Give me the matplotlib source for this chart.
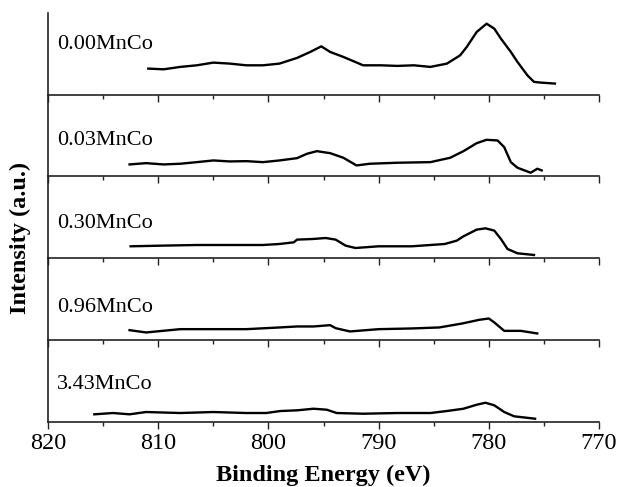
import matplotlib
matplotlib.use("Agg")
import matplotlib.pyplot as plt
from matplotlib.ticker import MultipleLocator

plt.rcParams['font.family'] = ['Liberation Serif', 'DejaVu Serif']

# Sample labels (top to bottom)
labels = ["0.00MnCo", "0.03MnCo", "0.30MnCo", "0.96MnCo", "3.43MnCo"]

# Binding energy (eV) and intensity (a.u.)
be_000 = [810.9, 809.5, 808.0, 806.5, 805.0, 803.5, 802.0, 800.5, 799.0, 797.4, 796.2, 795.2,
          794.4, 793.2, 791.4, 789.8, 788.3, 786.8, 785.3, 783.8, 782.6, 782.0, 781.1, 780.2,
          779.5, 778.9, 778.0, 777.4, 776.5, 775.9, 775.3, 774.0]
in_000 = [26.0, 25.3, 27.7, 29.3, 32.0, 31.0, 29.3, 29.3, 31.0, 36.7, 42.7, 48.3,
          42.7, 37.7, 29.3, 29.3, 28.7, 29.3, 27.7, 31.0, 39.3, 47.7, 62.7, 71.0,
          66.0, 56.0, 42.7, 32.7, 19.3, 12.7, 12.0, 11.0]

be_003 = [812.6, 811.1, 809.5, 808.0, 806.5, 805.0, 803.5, 802.0, 800.5, 799.0, 797.4, 796.5,
          795.6, 794.4, 793.2, 792.0, 790.8, 788.3, 785.3, 783.5, 782.3, 781.1, 780.2, 779.2,
          778.6, 778.0, 777.4, 776.2, 775.6, 775.2]
in_003 = [12.0, 13.3, 12.0, 12.7, 14.3, 16.0, 15.0, 15.3, 14.3, 16.0, 18.3, 22.7,
          25.3, 23.3, 18.7, 11.0, 12.7, 13.7, 14.3, 18.7, 25.3, 33.3, 36.7, 36.0,
          29.3, 14.3, 8.7, 3.7, 7.7, 6.0]

be_030 = [812.5, 809.5, 806.5, 803.5, 800.5, 799.0, 797.7, 797.4, 796.0, 794.8, 793.9, 793.0,
          792.1, 790.0, 787.0, 784.0, 782.9, 782.3, 781.1, 780.3, 779.5, 778.9, 778.3, 777.4,
          775.9]
in_030 = [12.0, 12.7, 13.3, 13.3, 13.3, 14.3, 16.0, 18.7, 19.3, 20.3, 18.7, 12.7,
          10.3, 12.0, 12.0, 14.3, 17.7, 22.0, 28.7, 30.0, 27.7, 19.3, 9.3, 5.0,
          3.3]

be_096 = [812.6, 811.1, 808.0, 805.0, 802.0, 799.0, 797.4, 795.9, 794.4, 793.9, 792.6, 790.0,
          787.0, 784.5, 782.4, 780.9, 780.0, 779.5, 778.6, 777.1, 775.6]
in_096 = [10.0, 7.7, 11.0, 11.0, 11.0, 12.7, 13.7, 13.7, 15.0, 12.0, 8.7, 11.0,
          11.7, 12.7, 16.7, 20.3, 21.7, 17.7, 9.3, 9.3, 6.7]

be_343 = [815.8, 814.1, 812.6, 811.1, 808.0, 805.0, 802.0, 800.2, 798.9, 797.4, 795.9, 794.7,
          793.8, 791.4, 788.3, 785.3, 783.8, 782.3, 781.1, 780.3, 779.5, 778.6, 777.7, 775.8]
in_343 = [7.7, 9.0, 7.7, 10.0, 9.0, 10.0, 9.0, 9.0, 11.0, 11.7, 13.3, 12.3,
          9.0, 8.3, 9.0, 9.0, 11.0, 13.3, 17.3, 19.3, 16.7, 10.0, 5.7, 3.3]

series = [(be_000, in_000), (be_003, in_003), (be_030, in_030),
          (be_096, in_096), (be_343, in_343)]
label_heights = [49.7, 35.7, 34.5, 33.0, 37.5]

xticks = [820, 810, 800, 790, 780, 770]

W, H = 617, 487
fig = plt.figure(figsize=(W / 100, H / 100), dpi=100)

left = 48 / W
width = 551 / W
bottom0 = 1 - 422 / H
ph = (422 - 12.7) / 5 / H

for i, ((be, inten), lab, lh) in enumerate(zip(series, labels, label_heights)):
    b = bottom0 + (4 - i) * ph
    ax = fig.add_axes([left, b, width, ph])
    ax.plot(be, inten, color='black', lw=1.7)
    ax.set_xlim(820, 770)
    ax.set_ylim(0, 82)
    ax.spines['top'].set_visible(False)
    ax.spines['right'].set_visible(False)
    for s in ('left', 'bottom'):
        ax.spines[s].set_linewidth(1.2)
        ax.spines[s].set_color('#222222')
    ax.set_yticks([])
    ax.xaxis.set_major_locator(MultipleLocator(10))
    ax.xaxis.set_minor_locator(MultipleLocator(5))
    ax.tick_params(axis='x', which='major', direction='out', length=5, width=1, color='#222222')
    ax.tick_params(axis='x', which='minor', direction='out', length=3, width=1, color='#222222')
    ax.set_xticks(xticks)
    if i < 4:
        ax.tick_params(axis='x', labelbottom=False)
    else:
        ax.tick_params(axis='x', labelsize=17.5, pad=3)
    ax.text(819.2, lh, lab, fontsize=16, va='center', ha='left')
    ax.patch.set_alpha(0)

fig.text(20.7 / W, 1 - 237.5 / H, "Intensity (a.u.)", rotation=90, fontsize=17.5,
         fontweight='bold', ha='center', va='center')
fig.text(323.5 / W, 1 - 481 / H, "Binding Energy (eV)", fontsize=17.5,
         fontweight='bold', ha='center', va='baseline')

fig.savefig("out.png", dpi=100)
